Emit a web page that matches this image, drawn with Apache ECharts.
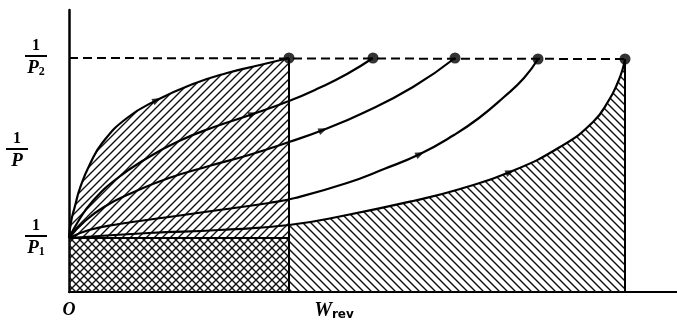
<!DOCTYPE html>
<html>
<head>
<meta charset="utf-8">
<script src="https://cdn.jsdelivr.net/npm/echarts@6/dist/echarts.min.js"></script>
<style>
html,body{margin:0;padding:0;background:#fff;}
#chart{width:677px;height:320px;}
</style>
</head>
<body>
<div id="chart"></div>
<script>
// ---- data (diagram units) ----
const yP1 = 54;          // 1/P1 level
const yP2 = 234;         // 1/P2 level
const wLeft = 220;       // reversible (fastest) path end
const wRev = 556;        // slowest path end
const xMax = 608;
const yMax = 282;

const curveA = [[0,54],[2,70],[6,86],[11,104],[21,128],[34,150],[58,174],[88,192],[124,208],[158,219],[191,227],[220,234]];
const curveB = [[0,54],[10,72],[23,90],[46,112],[80,135],[110,151],[145,165],[184,178],[220,191],[250,204],[278,218],[304,234]];
const curveC = [[0,54],[15,70],[35,85],[65,100],[100,114],[140,126],[180,137],[220,150],[254,162],[294,179],[344,205],[386,234]];
const curveD = [[0,54],[20,62],[50,68],[100,75],[150,82],[200,89],[226,94],[278,109],[315,123],[351,138],[385,157],[410,174],[435,195],[455,214],[469,233]];
const curveE = [[0,54],[80,59],[150,62],[220,67],[278,77],[344,91],[391,103],[441,120],[491,145],[524,170],[540,192],[549,210],[554,224],[556,233]];
const arrowIdx = [7, 7, 8, 9, 7];
const dashedLine = [[0,234],[556,233]];

const yTickLabels = {54: '1', 234: '2'};
const xTickLabels = {0: 'O'};
const yName = '1/P';
const xName = ['W', 'rev'];

// ---- hatch patterns ----
function hatch(dir){
  const c = document.createElement('canvas');
  c.width = 8; c.height = 8;
  const g = c.getContext('2d');
  g.strokeStyle = '#111'; g.lineWidth = 1.4; g.lineCap = 'square';
  g.beginPath();
  if (dir === '/') {
    g.moveTo(0,8); g.lineTo(8,0);
    g.moveTo(-1,1); g.lineTo(1,-1);
    g.moveTo(7,9); g.lineTo(9,7);
  } else {
    g.moveTo(0,0); g.lineTo(8,8);
    g.moveTo(-1,7); g.lineTo(1,9);
    g.moveTo(7,-1); g.lineTo(9,1);
  }
  g.stroke();
  return c;
}
const patFwd = {image: hatch('/'), repeat: 'repeat'};
const patBack = {image: hatch('\\'), repeat: 'repeat'};

const serif = 'Liberation Serif';
const rich = {
  n: {fontFamily: serif, fontWeight: 'bold', fontSize: 16, lineHeight: 16, align: 'center', color: '#000'},
  bar: {width: 22, height: 2, lineHeight: 4, backgroundColor: '#000', align: 'center'},
  p: {fontFamily: serif, fontStyle: 'italic', fontWeight: 'bold', fontSize: 19, lineHeight: 20, align: 'center', color: '#000'},
  s: {fontFamily: serif, fontWeight: 'bold', fontSize: 12, lineHeight: 12, verticalAlign: 'bottom', align: 'center', color: '#000'},
  w: {fontFamily: serif, fontStyle: 'italic', fontWeight: 'bold', fontSize: 20, lineHeight: 20, color: '#000'},
  r: {fontFamily: 'DejaVu Sans', fontWeight: 'bold', fontSize: 12, lineHeight: 11, verticalAlign: 'bottom', color: '#000'}
};

const curves = [curveA, curveB, curveC, curveD, curveE];
const ends = curves.map(c => c[c.length - 1]);
const arrows = curves.map((c, k) => {
  const i = arrowIdx[k];
  const a = c[i - 1], b = c[i + 1];
  const ang = Math.atan2(b[1] - a[1], b[0] - a[0]) * 180 / Math.PI;
  return [c[i][0], c[i][1], ang - 90];
});

const lineBase = {type: 'line', symbol: 'none', smooth: 0.5, silent: true, animation: false};
const lw = 2.2;

const series = [
  Object.assign({}, lineBase, {data: curveA, lineStyle: {color: '#000', width: lw}, areaStyle: {color: patFwd, opacity: 1}, z: 1}),
  Object.assign({}, lineBase, {smooth: false, data: [[0, yP1], [wLeft, yP1]], lineStyle: {color: '#000', width: lw}, areaStyle: {color: patBack, opacity: 1}, z: 2}),
  Object.assign({}, lineBase, {data: curveE.filter(p => p[0] >= wLeft), lineStyle: {width: 0, opacity: 0}, areaStyle: {color: patBack, opacity: 1}, z: 1}),
  Object.assign({}, lineBase, {data: curveB, lineStyle: {color: '#000', width: lw}, z: 3}),
  Object.assign({}, lineBase, {data: curveC, lineStyle: {color: '#000', width: lw}, z: 3}),
  Object.assign({}, lineBase, {data: curveD, lineStyle: {color: '#000', width: lw}, z: 3}),
  Object.assign({}, lineBase, {data: curveE, lineStyle: {color: '#000', width: lw}, z: 3}),
  Object.assign({}, lineBase, {smooth: false, data: [[wLeft, 0], ends[0]], lineStyle: {color: '#000', width: 2}, z: 3}),
  Object.assign({}, lineBase, {smooth: false, data: [[wRev, 0], ends[4]], lineStyle: {color: '#000', width: 2}, z: 3}),
  Object.assign({}, lineBase, {smooth: false, data: dashedLine, lineStyle: {color: '#000', width: 2, type: [9, 5]}, z: 3}),
  {type: 'scatter', data: ends, symbol: 'circle', symbolSize: 11, itemStyle: {color: '#000'}, silent: true, animation: false, z: 4},
  {type: 'scatter', data: arrows, symbol: 'triangle', symbolSize: [7, 9], symbolRotate: v => v[2], itemStyle: {color: '#000'}, silent: true, animation: false, z: 4}
];

const chart = echarts.init(document.getElementById('chart'), null, {renderer: 'canvas'});
chart.setOption({
  animation: false,
  backgroundColor: '#fff',
  grid: {left: 69, right: 0, top: 10, bottom: 28, containLabel: false, outerBoundsMode: 'none'},
  xAxis: {
    type: 'value', min: 0, max: xMax, interval: 152,
    axisLine: {show: true, lineStyle: {color: '#000', width: 2}},
    axisTick: {show: false}, splitLine: {show: false},
    axisLabel: {
      margin: 9, fontFamily: serif, fontStyle: 'italic', fontWeight: 'bold', fontSize: 18, color: '#000',
      formatter: v => (xTickLabels[v] !== undefined ? xTickLabels[v] : '')
    },
    name: '{w|' + xName[0] + '}{r|' + xName[1] + '}',
    nameLocation: 'middle', nameGap: 9, nameMoveOverlap: false,
    nameTextStyle: {rich: rich, padding: [0, 78, 0, 0]}
  },
  yAxis: {
    type: 'value', min: 0, max: yMax, interval: 18,
    axisLine: {show: true, lineStyle: {color: '#000', width: 2.5}},
    axisTick: {show: false}, splitLine: {show: false},
    axisLabel: {
      margin: 22, rich: rich,
      formatter: v => (yTickLabels[v] !== undefined ? '{n|1}\n{bar|}\n{p|P}{s|' + yTickLabels[v] + '}' : '')
    },
    name: '{n|' + yName.split('/')[0] + '}\n{bar|}\n{p|' + yName.split('/')[1] + '}',
    nameLocation: 'middle', nameRotate: 0, nameGap: 41, nameMoveOverlap: false,
    nameTextStyle: {rich: rich}
  },
  series: series
});
</script>
</body>
</html>
